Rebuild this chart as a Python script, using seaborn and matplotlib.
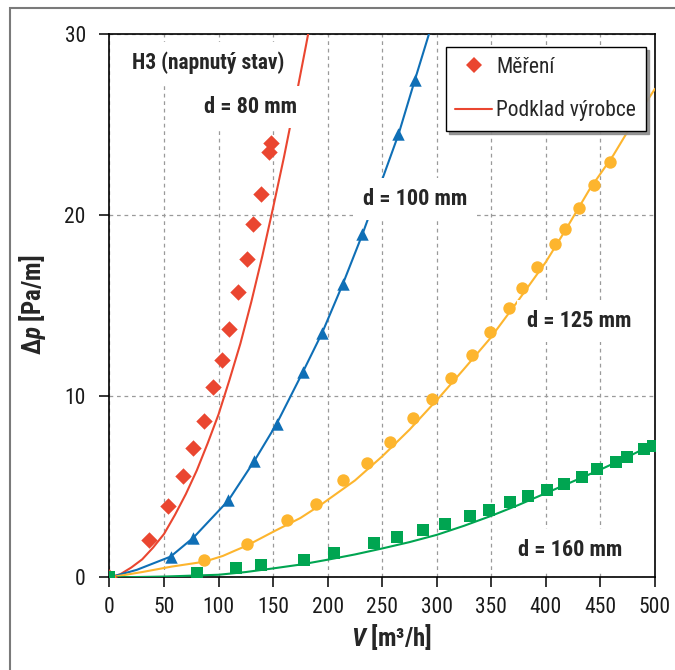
import numpy as np
import pandas as pd
import matplotlib
matplotlib.use("Agg")
import matplotlib.pyplot as plt
from matplotlib import font_manager
from matplotlib.patches import Rectangle
from matplotlib.lines import Line2D
import seaborn as sns

# --- measured points (Měření) ---
v80_meas = [0, 36.2, 53.9, 67.4, 76.5, 86.3, 95.1, 103.1, 109.8, 117.5, 125.8, 131.8, 138.6, 145.9, 147.8]
dp80_meas = [0, 2.07, 3.94, 5.58, 7.14, 8.63, 10.49, 11.99, 13.72, 15.76, 17.55, 19.49, 21.13, 23.47, 23.95]

v100_meas = [0, 56.1, 76.8, 108.6, 132.7, 153.3, 177.1, 195.0, 214.3, 231.7, 264.7, 280.0]
dp100_meas = [0, 1.15, 2.16, 4.26, 6.44, 8.45, 11.32, 13.5, 16.19, 18.94, 24.46, 27.44]

v125_meas = [0, 86.9, 126.4, 163.0, 189.2, 214.5, 236.5, 257.1, 277.9, 295.5, 313.2, 332.7,
             348.5, 366.5, 377.9, 392.2, 408.4, 417.8, 430.0, 444.2, 458.9]
dp125_meas = [0, 0.94, 1.87, 3.15, 4.07, 5.39, 6.33, 7.45, 8.77, 9.87, 10.99, 12.27,
              13.56, 14.87, 15.98, 17.1, 18.4, 19.2, 20.35, 21.67, 22.9]

v160_meas = [0, 79.8, 116.0, 139.0, 178.0, 206.0, 242.5, 263.9, 287.0, 308.0, 330.6, 348.3,
             367.4, 383.6, 401.0, 416.2, 433.0, 447.3, 464.0, 474.7, 490.0, 497.9]
dp160_meas = [0, 0.26, 0.53, 0.70, 0.99, 1.36, 1.91, 2.24, 2.60, 2.95, 3.37, 3.70,
              4.15, 4.51, 4.84, 5.17, 5.54, 5.98, 6.38, 6.64, 7.06, 7.23]

# --- manufacturer data (Podklad výrobce) ---
v80_mfr = [0, 10, 20, 30, 40, 50, 60, 70, 80, 90, 100, 110, 120, 130, 140, 150, 160, 170, 180, 190]
dp80_mfr = [0, 0.18, 0.55, 1.0, 1.65, 2.4, 3.45, 4.6, 5.9, 7.4, 9.0, 10.9, 12.9, 15.2, 17.7,
            20.4, 23.2, 26.2, 29.3, 32.5]

v100_mfr = [0, 25, 56, 77, 109, 133, 153, 177, 195, 214, 232, 265, 280, 293, 300]
dp100_mfr = [0, 0.42, 1.15, 2.2, 4.25, 6.45, 8.45, 11.3, 13.5, 16.2, 18.95, 24.45, 27.45, 30.0, 31.4]

v125_mfr = [0, 30, 57, 87, 104, 115, 126, 151, 175, 194, 225, 250, 275, 303, 325, 349,
            375, 400, 418, 440, 462, 480, 500]
dp125_mfr = [0, 0.3, 0.6, 0.87, 1.19, 1.48, 1.76, 2.55, 3.28, 4.02, 5.35, 6.68, 8.15, 9.98,
             11.5, 13.19, 15.3, 17.4, 19.16, 21.4, 23.3, 25.1, 26.95]

v160_mfr = [0, 50, 100, 125, 150, 176, 200, 225, 250, 275, 300, 325, 350, 375, 400, 425,
            450, 475, 500]
dp160_mfr = [0, 0.05, 0.15, 0.3, 0.5, 0.72, 0.98, 1.27, 1.6, 1.95, 2.35, 2.85, 3.4, 4.0,
             4.65, 5.3, 5.95, 6.65, 7.4]

x_ticks = [0, 50, 100, 150, 200, 250, 300, 350, 400, 450, 500]
y_ticks = [0, 10, 20, 30]

RED = "#EA4630"
BLUE = "#0F6FB6"
YELLOW = "#FDB52E"
GREEN = "#00A551"

sns.set_style("ticks")

available = {f.name for f in font_manager.fontManager.ttflist}
FAM = "Liberation Sans"
for cand in ["Liberation Sans Narrow", "Arial Narrow", "Roboto Condensed", "Open Sans Condensed"]:
    if cand in available:
        FAM = cand
        break
plt.rcParams["font.family"] = [FAM, "DejaVu Sans"]
plt.rcParams["mathtext.fontset"] = "custom"
plt.rcParams["mathtext.rm"] = FAM
plt.rcParams["mathtext.it"] = FAM + ":italic"
plt.rcParams["mathtext.bf"] = FAM + ":bold"
plt.rcParams["mathtext.bfit"] = FAM + ":italic:bold"

fig = plt.figure(figsize=(6.75, 6.7), dpi=100)
ax = fig.add_axes([0.1622, 0.1381, 0.8081, 0.8119])

series = [
    (v80_mfr, dp80_mfr, v80_meas, dp80_meas, RED, "D", 70),
    (v100_mfr, dp100_mfr, v100_meas, dp100_meas, BLUE, "^", 80),
    (v125_mfr, dp125_mfr, v125_meas, dp125_meas, YELLOW, "o", 80),
    (v160_mfr, dp160_mfr, v160_meas, dp160_meas, GREEN, "s", 68),
]

for vm, dm, vp, dpm, col, mk, sz in series:
    sns.lineplot(x=vm, y=dm, ax=ax, color=col, lw=1.5, sort=False,
                 estimator=None, zorder=3)
    sns.scatterplot(x=vp, y=dpm, ax=ax, color=col, marker=mk, s=sz,
                    linewidth=0, zorder=4)

ax.set_xlim(0, 500)
ax.set_ylim(0, 30)
ax.set_xticks(x_ticks)
ax.set_yticks(y_ticks)
ax.grid(True, ls=(0, (3, 3)), color="#9a9a9a", lw=0.9)
ax.set_axisbelow(True)
for sp in ax.spines.values():
    sp.set_color("black")
    sp.set_linewidth(1.2)
    sp.set_visible(True)
ax.tick_params(direction="out", length=7, width=1.1, color="black",
               labelsize=15.5, labelcolor="#1a1a1a")
ax.tick_params(axis="y", pad=10)
ax.tick_params(axis="x", pad=7)

ax.set_xlabel("$\\mathbfit{V}$ [m³/h]", fontsize=18, fontweight="bold", va="center")
ax.set_ylabel("Δ$\\mathbfit{p}$ [Pa/m]", fontsize=18, fontweight="bold", va="center")
ax.xaxis.set_label_coords(0.518, -0.109)
ax.yaxis.set_label_coords(-0.142, 0.501)

box = dict(boxstyle="square,pad=0.45", facecolor="white", edgecolor="none")
ax.text(20.4, 28.37, "H3 (napnutý stav)", fontsize=15.5, fontweight="bold",
        ha="left", va="center", bbox=box, zorder=6)
ax.text(171.6, 25.95, "d = 80 mm", fontsize=16, fontweight="bold",
        ha="right", va="center", bbox=box, zorder=6)
ax.text(232.3, 20.87, "d = 100 mm", fontsize=16, fontweight="bold",
        ha="left", va="center", bbox=box, zorder=6)
ax.text(382.4, 14.15, "d = 125 mm", fontsize=16, fontweight="bold",
        ha="left", va="center", bbox=box, zorder=6)
ax.text(374.4, 1.5, "d = 160 mm", fontsize=16, fontweight="bold",
        ha="left", va="center", bbox=box, zorder=6)

handles = [
    Line2D([], [], color=RED, marker="D", ls="none", markersize=8, markeredgewidth=0),
    Line2D([], [], color=RED, lw=1.5),
]
leg = ax.legend(handles, ["Měření", "Podklad výrobce"], loc="upper right",
                bbox_to_anchor=(0.9835, 0.975), fontsize=15.5, frameon=True,
                fancybox=False, shadow={"color": "0.55", "alpha": 0.9},
                edgecolor="black", framealpha=1, labelspacing=1.05,
                handlelength=1.7, handletextpad=0.2, borderpad=0.45,
                borderaxespad=0)
leg.get_frame().set_linewidth(1.0)
leg.set_zorder(7)

fig.add_artist(Rectangle((10 / 675, -0.1), 1.2, 1.088, transform=fig.transFigure,
                         fill=False, edgecolor="#7a7a7a", lw=1.5))

fig.savefig("out.png", dpi=100)
